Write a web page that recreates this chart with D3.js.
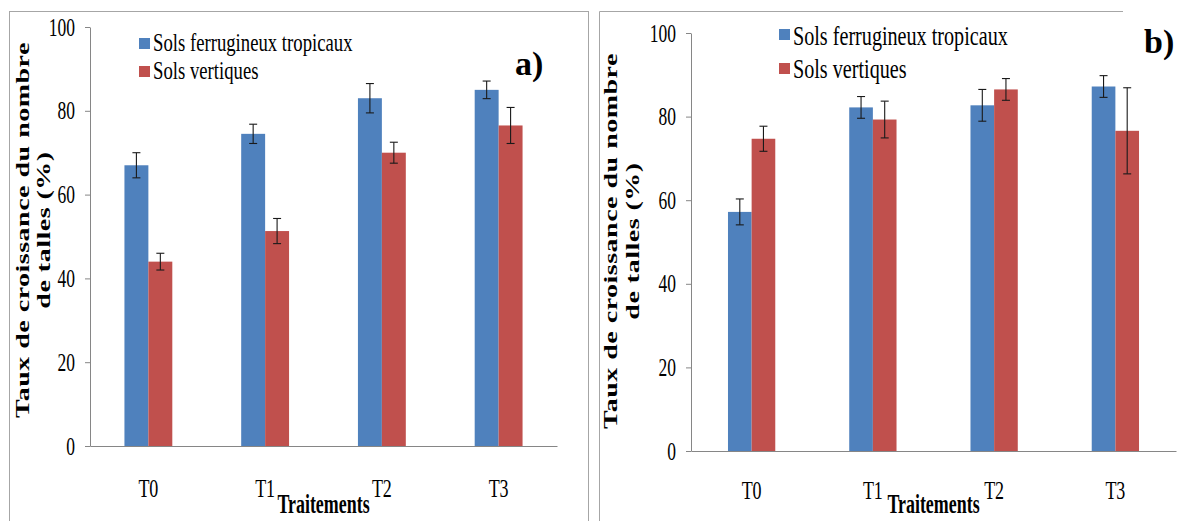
<!DOCTYPE html>
<html>
<head>
<meta charset="utf-8">
<script src="https://cdn.jsdelivr.net/npm/d3@7"></script>
<style>
  html, body { margin: 0; padding: 0; background: #fff; }
  svg { display: block; }
</style>
</head>
<body>
<svg id="chart" width="1192" height="521"></svg>
<script>
// Treatments and soil types
const categories = ["T0", "T1", "T2", "T3"];
const seriesNames = ["Sols ferrugineux tropicaux", "Sols vertiques"];
const yTicks = [0, 20, 40, 60, 80, 100];

// Panel a) – tiller growth rate (%), mean and error
const aFerrugineux = [67, 74.5, 83, 85];
const aFerrugineuxErr = [3.0, 2.3, 3.5, 2.1];
const aVertiques = [44, 51.3, 70, 76.5];
const aVertiquesErr = [2.0, 3.0, 2.5, 4.3];

// Panel b) – tiller growth rate (%), mean and error
const bFerrugineux = [57.2, 82.2, 82.7, 87.2];
const bFerrugineuxErr = [3.1, 2.6, 3.8, 2.6];
const bVertiques = [74.7, 79.3, 86.5, 76.6];
const bVertiquesErr = [3.0, 4.4, 2.6, 10.3];

const colors = ["#4F81BD", "#C0504D"];
const serif = "Liberation Serif";
const axisColor = "#868686";
const frameColor = "#a6a6a6";
const SQ = 0.7; // horizontal squeeze of the figure's lettering

const svg = d3.select("#chart");

// Frames around the panels
svg.append("rect")
  .attr("x", 9.5).attr("y", 11.5).attr("width", 579).attr("height", 530)
  .attr("fill", "none").attr("stroke", frameColor).attr("stroke-width", 1);
svg.append("path")
  .attr("d", "M599.5,530 V11.5 H1123")
  .attr("fill", "none").attr("stroke", frameColor).attr("stroke-width", 1);

function drawPanel(p) {
  const g = svg.append("g");

  const y = d3.scaleLinear().domain([0, 100]).range([p.y0, p.y100]);
  const x0 = d3.scaleBand().domain(categories).range([p.left, p.right]).padding(0);
  const bw = x0.bandwidth();
  const x1 = d3.scaleBand().domain(seriesNames)
    .range([bw * (0.5 - p.group / 2), bw * (0.5 + p.group / 2)]).padding(0);

  // y axis
  const ya = g.append("g")
    .attr("transform", `translate(${p.left},0)`)
    .call(d3.axisLeft(y).tickValues(yTicks).tickSize(5).tickSizeOuter(0).tickFormat(d3.format("d")));
  ya.attr("font-family", serif);
  ya.selectAll("path, line").attr("stroke", axisColor);
  ya.selectAll("text")
    .attr("x", null)
    .attr("font-family", serif).attr("font-size", 25).attr("fill", "#000")
    .attr("text-anchor", "end")
    .attr("transform", `translate(-15,0) scale(${SQ},1)`);

  // x axis
  const xa = g.append("g")
    .attr("transform", `translate(0,${p.y0})`)
    .call(d3.axisBottom(x0).tickSize(0).tickSizeOuter(0));
  xa.attr("font-family", serif);
  xa.selectAll("path, line").attr("stroke", axisColor);
  xa.selectAll("text")
    .attr("y", null).attr("dy", null)
    .attr("font-family", serif).attr("font-size", 25).attr("fill", "#000")
    .attr("text-anchor", "middle")
    .attr("transform", `translate(0,${p.tickLabelOffset}) scale(0.72,1)`);

  // bars + error bars
  const rows = [];
  categories.forEach((c, i) => {
    p.series.forEach((s, k) => {
      rows.push({ cat: c, name: seriesNames[k], v: s.values[i], e: s.errors[i], k });
    });
  });

  g.append("g").selectAll("rect").data(rows).join("rect")
    .attr("x", d => x0(d.cat) + x1(d.name))
    .attr("y", d => y(d.v))
    .attr("width", x1.bandwidth())
    .attr("height", d => y(0) - y(d.v))
    .attr("fill", d => colors[d.k]);

  const eb = g.append("g").attr("stroke", "#1a1a1a").attr("stroke-width", 1.1).attr("fill", "none");
  rows.forEach(d => {
    const cx = x0(d.cat) + x1(d.name) + x1.bandwidth() / 2;
    const yt = y(d.v + d.e), yb = y(d.v - d.e);
    eb.append("line").attr("x1", cx).attr("x2", cx).attr("y1", yt).attr("y2", yb);
    eb.append("line").attr("x1", cx - 4).attr("x2", cx + 4).attr("y1", yt).attr("y2", yt);
    eb.append("line").attr("x1", cx - 4).attr("x2", cx + 4).attr("y1", yb).attr("y2", yb);
  });

  // y axis title (two lines, rotated)
  const titleLines = ["Taux de croissance du nombre", "de talles (%)"];
  titleLines.forEach((t, i) => {
    g.append("text")
      .attr("transform", `translate(${p.titleX[i]},${p.titleY}) scale(${SQ},1) rotate(-90)`)
      .attr("text-anchor", "middle")
      .attr("font-family", serif).attr("font-weight", "bold").attr("font-size", 28)
      .attr("letter-spacing", 0.5)
      .attr("fill", "#000")
      .text(t);
  });

  // x axis title
  g.append("text")
    .attr("transform", `translate(${(p.left + p.right) / 2},${p.xTitleY}) scale(0.64,1)`)
    .attr("text-anchor", "middle")
    .attr("font-family", serif).attr("font-weight", "bold").attr("font-size", 28)
    .attr("fill", "#000")
    .text("Traitements");

  // legend
  seriesNames.forEach((n, k) => {
    g.append("rect")
      .attr("x", p.legend.x).attr("y", p.legend.sq[k])
      .attr("width", 11).attr("height", 11)
      .attr("fill", colors[k]);
    g.append("text")
      .attr("transform", `translate(${p.legend.x + 14},${p.legend.base[k]}) scale(0.72,1)`)
      .attr("font-family", serif).attr("font-size", p.legend.size)
      .attr("fill", "#000")
      .text(n);
  });

  // panel letter
  g.append("text")
    .attr("x", p.letter.x).attr("y", p.letter.y)
    .attr("font-family", serif).attr("font-weight", "bold").attr("font-size", 34)
    .attr("fill", "#000")
    .text(p.letter.text);
}

drawPanel({
  left: 90, right: 557, y0: 446, y100: 27, group: 0.41,
  tickLabelOffset: 51,
  series: [
    { values: aFerrugineux, errors: aFerrugineuxErr },
    { values: aVertiques, errors: aVertiquesErr }
  ],
  titleX: [29, 50], titleY: 230,
  xTitleY: 513,
  legend: { x: 139, sq: [38, 66], base: [51, 79], size: 26 },
  letter: { x: 515, y: 75, text: "a)" }
});

drawPanel({
  left: 691, right: 1176, y0: 451, y100: 33, group: 0.39,
  tickLabelOffset: 48,
  series: [
    { values: bFerrugineux, errors: bFerrugineuxErr },
    { values: bVertiques, errors: bVertiquesErr }
  ],
  titleX: [617, 639], titleY: 241,
  xTitleY: 513,
  legend: { x: 779, sq: [29, 63], base: [45, 78], size: 28 },
  letter: { x: 1144, y: 53, text: "b)" }
});
</script>
</body>
</html>
